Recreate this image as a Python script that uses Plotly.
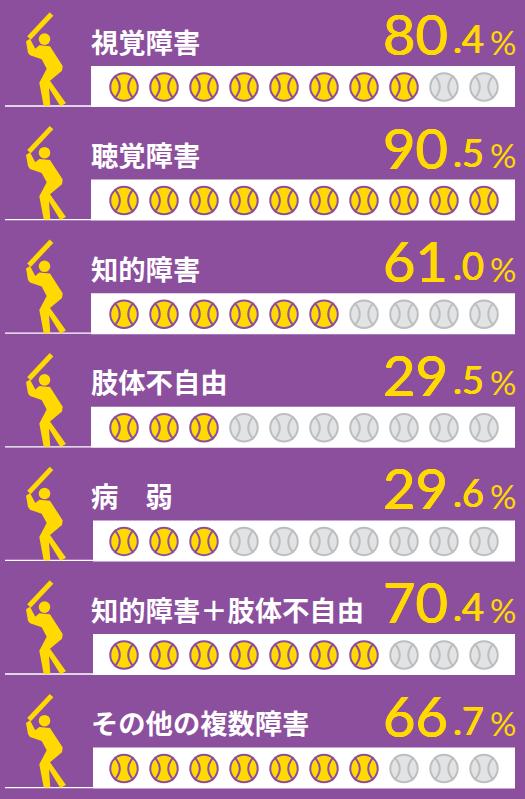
import plotly.graph_objects as go

categories = ["視覚障害", "聴覚障害", "知的障害", "肢体不自由", "病　弱", "知的障害＋肢体不自由", "その他の複数障害"]
percent_whole = ["80", "90", "61", "29", "29", "70", "66"]
percent_decimal = [".4", ".5", ".0", ".5", ".6", ".4", ".7"]
filled_balls = [8, 10, 6, 3, 3, 7, 7]
total_balls = 10

BG = "#8C4F9E"
YEL = "#FFD900"
GRAY = "#E2E3E5"
GSEAM = "#BDBEC0"
CJK = "Noto Sans CJK JP"
NUM = "Lato"
THICK = "0.4px 0 0 #FFD900, -0.4px 0 0 #FFD900, 0 0.4px 0 #FFD900, 0 -0.4px 0 #FFD900"

PITCH = 113.6
ROW_Y = [i * PITCH for i in range(7)]
BAR_L = [91, 91, 91, 91, 93, 93, 93]
BALL_X0, BALL_DX, BALL_Y = 124, 40, 87
LABEL_X = [88.5, 88.5, 88.5, 88.5, 88.5, 88.5, 88.5]

fig = go.Figure()
shapes, ann = [], []

def p(points, dy):
    return "M " + " L ".join(f"{x/3:.1f},{y/3+dy:.1f}" for x, y in points) + " Z"

BODY = [(78,124),(90,116),(106,146),(118,136),(150,139),(188,198),(186,212),(150,242),(198,310),(181,319),
        (147,264),(151,318),(131,318),(118,248),(140,206),(125,178),(90,166),(84,158)]

for r, (cat, dy) in enumerate(zip(categories, ROW_Y)):
    shapes.append(dict(type="rect", x0=BAR_L[r], x1=515, y0=66+dy, y1=107+dy, fillcolor="white", line_width=0, layer="below"))
    shapes.append(dict(type="line", x0=5, x1=BAR_L[r], y0=106+dy, y1=106+dy, line=dict(color="white", width=1.3), layer="below"))
    shapes.append(dict(type="path", path=p(BODY, dy), fillcolor=YEL, line_width=0))
    shapes.append(dict(type="line", x0=51.5, y0=14+dy, x1=29, y1=38+dy, line=dict(color=YEL, width=5)))
    shapes.append(dict(type="circle", x0=38.7, x1=50.3, y0=33.3+dy, y1=44.9+dy, fillcolor=YEL, line_width=0))

    xs = [BALL_X0 + i*BALL_DX for i in range(total_balls)]
    ys = [BALL_Y + dy] * total_balls
    cols = [YEL if i < filled_balls[r] else GRAY for i in range(total_balls)]
    edges = [BG if i < filled_balls[r] else GSEAM for i in range(total_balls)]
    fig.add_trace(go.Scatter(x=xs, y=ys, mode="markers", hoverinfo="skip", showlegend=False,
                             marker=dict(size=27.5, color=cols, line=dict(color=edges, width=2))))
    for x, y, e in zip(xs, ys, edges):
        for s in (-1, 1):
            shapes.append(dict(type="path", path=f"M {x+s*9.5},{y-11.5} Q {x-s*1},{y} {x+s*9.5},{y+11.5}",
                               line=dict(color=e, width=2)))

    ann.append(dict(x=LABEL_X[r], y=40.5+dy, text=f"<b>{cat}</b>", xanchor="left", yanchor="middle", showarrow=False,
                    font=dict(family=CJK, size=27.3, color="white")))
    ann.append(dict(x=450, y=33.5+dy, text=percent_whole[r], xanchor="right", yanchor="middle", showarrow=False,
                    font=dict(family=NUM, size=56, color=YEL, shadow=THICK)))
    ann.append(dict(x=486, y=38+dy, text=percent_decimal[r], xanchor="right", yanchor="middle", showarrow=False,
                    font=dict(family=NUM, size=38, color=YEL, shadow=THICK)))
    ann.append(dict(x=517.5, y=41.5+dy, text="%", xanchor="right", yanchor="middle", showarrow=False,
                    font=dict(family=NUM, size=33, color=YEL)))

fig.update_layout(width=525, height=799, margin=dict(l=0, r=0, t=0, b=0), autosize=False,
                  paper_bgcolor=BG, plot_bgcolor=BG, shapes=shapes, annotations=ann, showlegend=False,
                  xaxis=dict(range=[0, 525], visible=False, fixedrange=True),
                  yaxis=dict(range=[799, 0], visible=False, fixedrange=True))
fig.write_html("out.html", config=dict(displayModeBar=False),
               post_script="document.body.style.margin='0';document.body.style.overflow='hidden';document.body.style.background='#8C4F9E';")
